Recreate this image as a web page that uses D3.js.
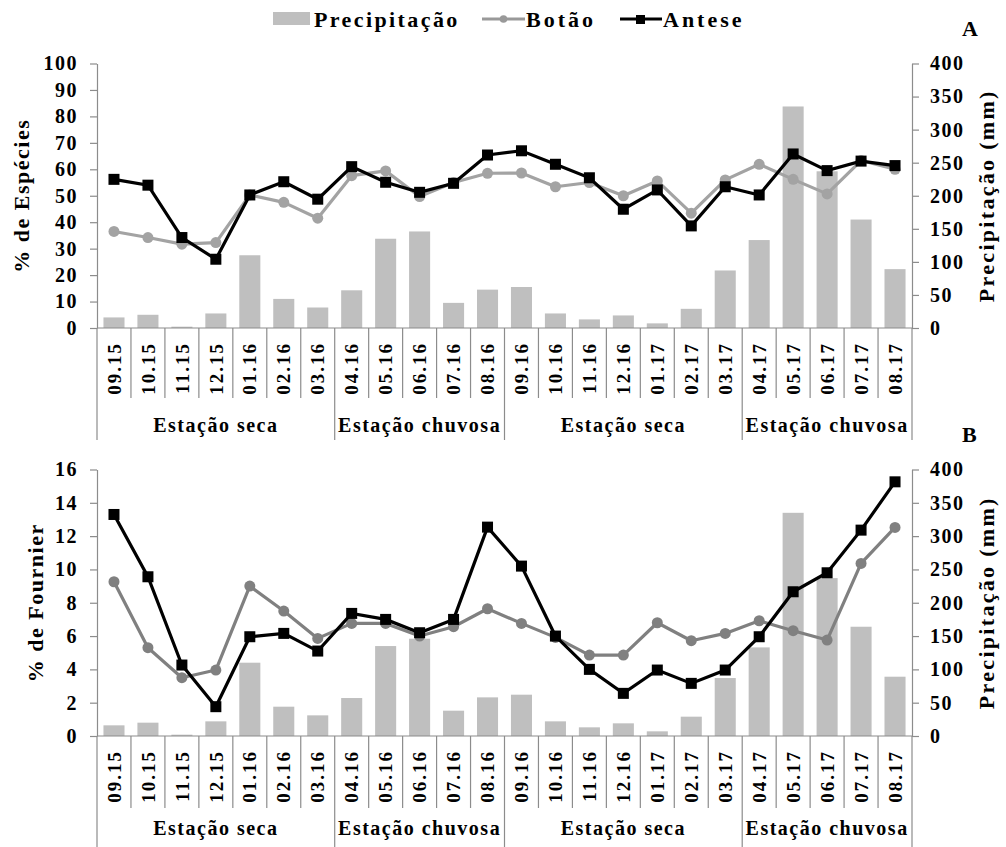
<!DOCTYPE html>
<html><head><meta charset="utf-8">
<script src="https://cdn.jsdelivr.net/npm/d3@7/dist/d3.min.js"></script>
<style>
html,body{margin:0;padding:0;background:#fff;}
svg text{font-family:"Liberation Serif","DejaVu Serif",serif !important;font-weight:700 !important;}
</style></head>
<body>
<svg id="chart" width="1006" height="847"></svg>
<script>
const categories = ["09.15","10.15","11.15","12.15","01.16","02.16","03.16","04.16","05.16","06.16","07.16","08.16",
  "09.16","10.16","11.16","12.16","01.17","02.17","03.17","04.17","05.17","06.17","07.17","08.17"];
const seasons = [
  {label:"Estação seca", start:0, end:7},
  {label:"Estação chuvosa", start:7, end:12},
  {label:"Estação seca", start:12, end:19},
  {label:"Estação chuvosa", start:19, end:24}
];
const precipitacao = [16,20,2,22,110,44,31,57,135,146,38,58,62,22,13,19,7,29,87,133,335,237,164,89];
const especiesBotao = [36.5,34.2,31.7,32.3,50.3,47.5,41.5,57.6,59.4,49.7,55,58.5,58.6,53.4,55,50,55.6,43.4,56,61.9,56.2,50.7,63.3,60];
const especiesAntese = [56.2,54,34.2,26,50.3,55.3,48.7,61,55.1,51.3,54.7,65.4,67,61.9,56.8,44.9,52.2,38.6,53.4,50.3,65.8,59.5,63.1,61.4];
const fournierBotao = [9.26,5.3,3.5,3.96,9.0,7.5,5.86,6.76,6.76,6.0,6.56,7.64,6.76,5.92,4.86,4.86,6.8,5.72,6.16,6.92,6.32,5.76,10.36,12.52];
const fournierAntese = [13.3,9.56,4.26,1.76,5.96,6.16,5.1,7.36,7.0,6.2,7.0,12.54,10.2,6.0,4.0,2.56,3.96,3.16,3.96,5.96,8.66,9.8,12.36,15.26];
const leftTicksA = [0,10,20,30,40,50,60,70,80,90,100];
const leftTicksB = [0,2,4,6,8,10,12,14,16];
const rightTicks = [0,50,100,150,200,250,300,350,400];

const svg = d3.select("#chart");
const axisColor = "#8c8c8c";
const x = d3.scaleBand().domain(categories).range([97, 912]).padding(0);
const barW = x.bandwidth() * 0.62;

function panel(cfg) {
  const g = svg.append("g");
  const yL = d3.scaleLinear().domain([0, cfg.leftMax]).range([cfg.y0, cfg.y1]);
  const yR = d3.scaleLinear().domain([0, 400]).range([cfg.y0, cfg.y1]);

  g.append("g").selectAll("rect").data(precipitacao).join("rect")
    .attr("x", (d,i) => x(categories[i]) + (x.bandwidth() - barW) / 2)
    .attr("width", barW)
    .attr("y", d => yR(d))
    .attr("height", d => cfg.y0 - yR(d))
    .attr("fill", "#bfbfbf");

  const la = g.append("g").attr("transform", `translate(97,0)`)
    .call(d3.axisLeft(yL).tickValues(cfg.leftTicks).tickSize(7).tickSizeOuter(0).tickPadding(12).tickFormat(d3.format("d")));
  const ra = g.append("g").attr("transform", `translate(912,0)`)
    .call(d3.axisRight(yR).tickValues(rightTicks).tickSize(7).tickSizeOuter(0).tickPadding(11).tickFormat(d3.format("d")));
  [la, ra].forEach(a => {
    a.select(".domain").attr("stroke", axisColor).attr("stroke-width", 1.2);
    a.selectAll(".tick line").attr("stroke", axisColor).attr("stroke-width", 1.2);
    a.selectAll(".tick text").attr("fill", "#000").style("font-size", "20px").style("letter-spacing", "1.5px");
  });

  g.append("line").attr("x1", 97).attr("x2", 912).attr("y1", cfg.y0).attr("y2", cfg.y0)
    .attr("stroke", axisColor).attr("stroke-width", 1.2);

  const bounds = d3.range(categories.length + 1);
  const groupBounds = new Set(seasons.map(s => s.start).concat([categories.length]));
  g.append("g").selectAll("line").data(bounds).join("line")
    .attr("x1", i => i < categories.length ? x(categories[i]) : x.range()[1])
    .attr("x2", i => i < categories.length ? x(categories[i]) : x.range()[1])
    .attr("y1", cfg.y0)
    .attr("y2", i => groupBounds.has(i) ? cfg.groupBottom : cfg.catBottom)
    .attr("stroke", axisColor).attr("stroke-width", 1.2);

  g.append("g").selectAll("text").data(categories).join("text")
    .attr("transform", d => `translate(${x(d) + x.bandwidth() / 2},${cfg.y0 + 14}) rotate(-90)`)
    .attr("text-anchor", "end").attr("dy", "0.35em")
    .style("font-size", "19px").style("letter-spacing", "2px")
    .text(d => d);

  g.append("g").selectAll("text").data(seasons).join("text")
    .attr("x", s => (x(categories[s.start]) + (s.end < categories.length ? x(categories[s.end]) : x.range()[1])) / 2)
    .attr("y", cfg.seasonY)
    .attr("text-anchor", "middle")
    .style("font-size", "20px").style("letter-spacing", "1.5px")
    .text(s => s.label);

  const cx = i => x(categories[i]) + x.bandwidth() / 2;
  const line = d3.line().x((d,i) => cx(i)).y(d => yL(d));
  g.append("path").datum(cfg.botao).attr("d", line).attr("fill", "none")
    .attr("stroke", cfg.botaoColor).attr("stroke-width", 3.2).attr("stroke-linejoin", "round");
  g.append("g").selectAll("circle").data(cfg.botao).join("circle")
    .attr("cx", (d,i) => cx(i)).attr("cy", d => yL(d)).attr("r", 5.5).attr("fill", cfg.botaoColor);
  g.append("path").datum(cfg.antese).attr("d", line).attr("fill", "none")
    .attr("stroke", "#000").attr("stroke-width", 3.2).attr("stroke-linejoin", "miter");
  g.append("g").selectAll("rect").data(cfg.antese).join("rect")
    .attr("x", (d,i) => cx(i) - 5.5).attr("y", d => yL(d) - 5.5).attr("width", 11).attr("height", 11).attr("fill", "#000");

  g.append("text")
    .attr("transform", `translate(${cfg.leftTitleX},${(cfg.y0 + cfg.y1) / 2}) rotate(-90)`)
    .attr("text-anchor", "middle").style("font-size", "22px").style("letter-spacing", "1.5px")
    .text(cfg.leftTitle);
  g.append("text")
    .attr("transform", `translate(994,${(cfg.y0 + cfg.y1) / 2}) rotate(-90)`)
    .attr("text-anchor", "middle").style("font-size", "22px").style("letter-spacing", "2.3px")
    .text("Precipitação (mm)");

  g.append("text").attr("x", 962).attr("y", cfg.letterY).style("font-size", "22px").text(cfg.letter);
}

panel({y0: 328, y1: 63.5, leftMax: 100, leftTicks: leftTicksA, catBottom: 398, groupBottom: 440, seasonY: 432,
  botao: especiesBotao, antese: especiesAntese, botaoColor: "#a3a3a3",
  leftTitle: "% de Espécies", leftTitleX: 29, letter: "A", letterY: 36});
panel({y0: 736, y1: 469.5, leftMax: 16, leftTicks: leftTicksB, catBottom: 808, groupBottom: 847, seasonY: 835,
  botao: fournierBotao, antese: fournierAntese, botaoColor: "#808080",
  leftTitle: "% de Fournier", leftTitleX: 43, letter: "B", letterY: 442});

const lg = svg.append("g");
lg.append("rect").attr("x", 273).attr("y", 12).attr("width", 37).attr("height", 13).attr("fill", "#bfbfbf");
lg.append("text").attr("x", 314).attr("y", 27).style("font-size", "22px").style("letter-spacing", "2.4px").text("Precipitação");
lg.append("line").attr("x1", 482).attr("x2", 525).attr("y1", 19).attr("y2", 19).attr("stroke", "#999").attr("stroke-width", 3);
lg.append("circle").attr("cx", 503.5).attr("cy", 19).attr("r", 3.8).attr("fill", "#999");
lg.append("text").attr("x", 526).attr("y", 27).style("font-size", "22px").style("letter-spacing", "3px").text("Botão");
lg.append("line").attr("x1", 620).attr("x2", 662).attr("y1", 19).attr("y2", 19).attr("stroke", "#000").attr("stroke-width", 3);
lg.append("rect").attr("x", 636).attr("y", 15).attr("width", 9).attr("height", 9).attr("fill", "#000");
lg.append("text").attr("x", 663).attr("y", 27).style("font-size", "22px").style("letter-spacing", "3px").text("Antese");
</script>
</body></html>
